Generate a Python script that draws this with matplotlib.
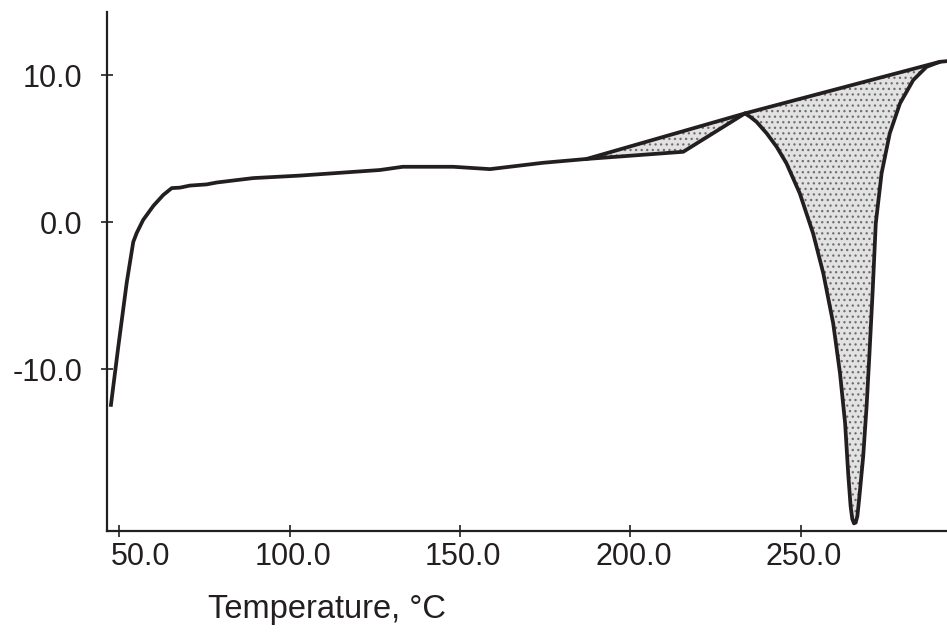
import numpy as np
import matplotlib
matplotlib.use("Agg")
import matplotlib.pyplot as plt
import matplotlib.transforms as mtrans

plt.rcParams['font.family'] = ['Liberation Sans', 'DejaVu Sans']
plt.rcParams['hatch.linewidth'] = 0.9

# DSC curve (temperature in °C, heat flow)
temp = [47.56, 49.7, 52.2, 54.1, 55.1, 57.0, 60.0, 62.9, 65.4, 67.8, 70.7, 75.6,
        78.6, 89.3, 103.0, 126.5, 133.2, 148.0, 158.8, 174.3, 187.1, 215.5, 233.6,
        235.2, 237.0, 240.0, 242.9, 245.8, 249.7, 253.6, 256.6, 259.5, 261.5, 263.0,
        263.9, 264.6, 265.1, 265.6, 266.1, 266.6, 267.1, 268.3, 269.3, 270.1, 271.1,
        272.0, 273.7, 276.1, 279.1, 283.0, 286.9, 290.8, 293.0]
heat = [-12.44, -8.5, -4.1, -1.36, -0.75, 0.14, 1.1, 1.84, 2.31, 2.34, 2.48, 2.56,
        2.69, 2.99, 3.16, 3.54, 3.76, 3.76, 3.6, 4.03, 4.29, 4.78, 7.39,
        7.15, 6.82, 6.03, 5.12, 3.99, 1.95, -0.77, -3.49, -6.89, -10.29, -13.69,
        -17.1, -19.3, -20.2, -20.5, -20.45, -20.0, -18.9, -15.97, -12.56, -9.16, -4.63,
        -0.09, 3.31, 6.03, 8.07, 9.66, 10.56, 10.9, 10.95]

# Baseline tangents bounding the two peaks
base1_t = [187.1, 233.6]
base1_h = [4.29, 7.39]
base2_t = [233.6, 290.8]
base2_h = [7.39, 10.9]

xticks = [50.0, 100.0, 150.0, 200.0, 250.0]
yticks = [-10.0, 0.0, 10.0]

col = '#231f20'
fig = plt.figure(figsize=(9.47, 6.32), dpi=100)
ax = fig.add_axes([107/947, 1-531/632, 1-107/947, (531-12)/632])

t = np.array(temp)
h = np.array(heat)

def region(t0, t1, bt, bh):
    m = (t >= t0 - 1e-9) & (t <= t1 + 1e-9)
    px = np.concatenate([t[m], bt[::-1]])
    py = np.concatenate([h[m], bh[::-1]])
    ax.fill(px, py, facecolor='#e2e2e2', edgecolor='#6e6e6e', hatch='...',
            linewidth=0, zorder=1)

region(base1_t[0], base1_t[1], base1_t, base1_h)
region(base2_t[0], base2_t[1], base2_t, base2_h)

ax.plot(base1_t, base1_h, color=col, lw=2.7, solid_capstyle='round', zorder=3)
ax.plot(base2_t, base2_h, color=col, lw=2.7, solid_capstyle='round', zorder=3)
ax.plot(temp, heat, color=col, lw=2.7, solid_joinstyle='round', zorder=3)

ax.set_xlim(46.4, 292.9)
ax.set_ylim(-21.02, 14.29)
ax.set_xticks(xticks)
ax.set_xticklabels([f"{v:.1f}" for v in xticks])
ax.set_yticks(yticks)
ax.set_yticklabels([f"{v:.1f}" for v in yticks])

for s in ['top', 'right']:
    ax.spines[s].set_visible(False)
for s in ['left', 'bottom']:
    ax.spines[s].set_linewidth(1.6)
    ax.spines[s].set_color(col)

ax.tick_params(axis='x', direction='inout', length=9, width=1.2, color=col,
               labelsize=22, pad=3.5, labelcolor=col)
ax.tick_params(axis='y', direction='inout', length=9, width=1.2, color=col,
               labelsize=22, pad=13, labelcolor=col)

# first x label sits shifted right of its tick, clear of the y axis
lbls = ax.get_xticklabels()
off = mtrans.ScaledTranslation(0.21, 0, fig.dpi_scale_trans)
lbls[0].set_transform(lbls[0].get_transform() + off)
for lb in lbls[1:]:
    lb.set_transform(lb.get_transform() + mtrans.ScaledTranslation(0.03, 0, fig.dpi_scale_trans))

fig.text(208/947, 1-618/632, "Temperature, °C", fontsize=23.5, color=col,
         ha='left', va='baseline')

fig.savefig("out.png", dpi=100)
